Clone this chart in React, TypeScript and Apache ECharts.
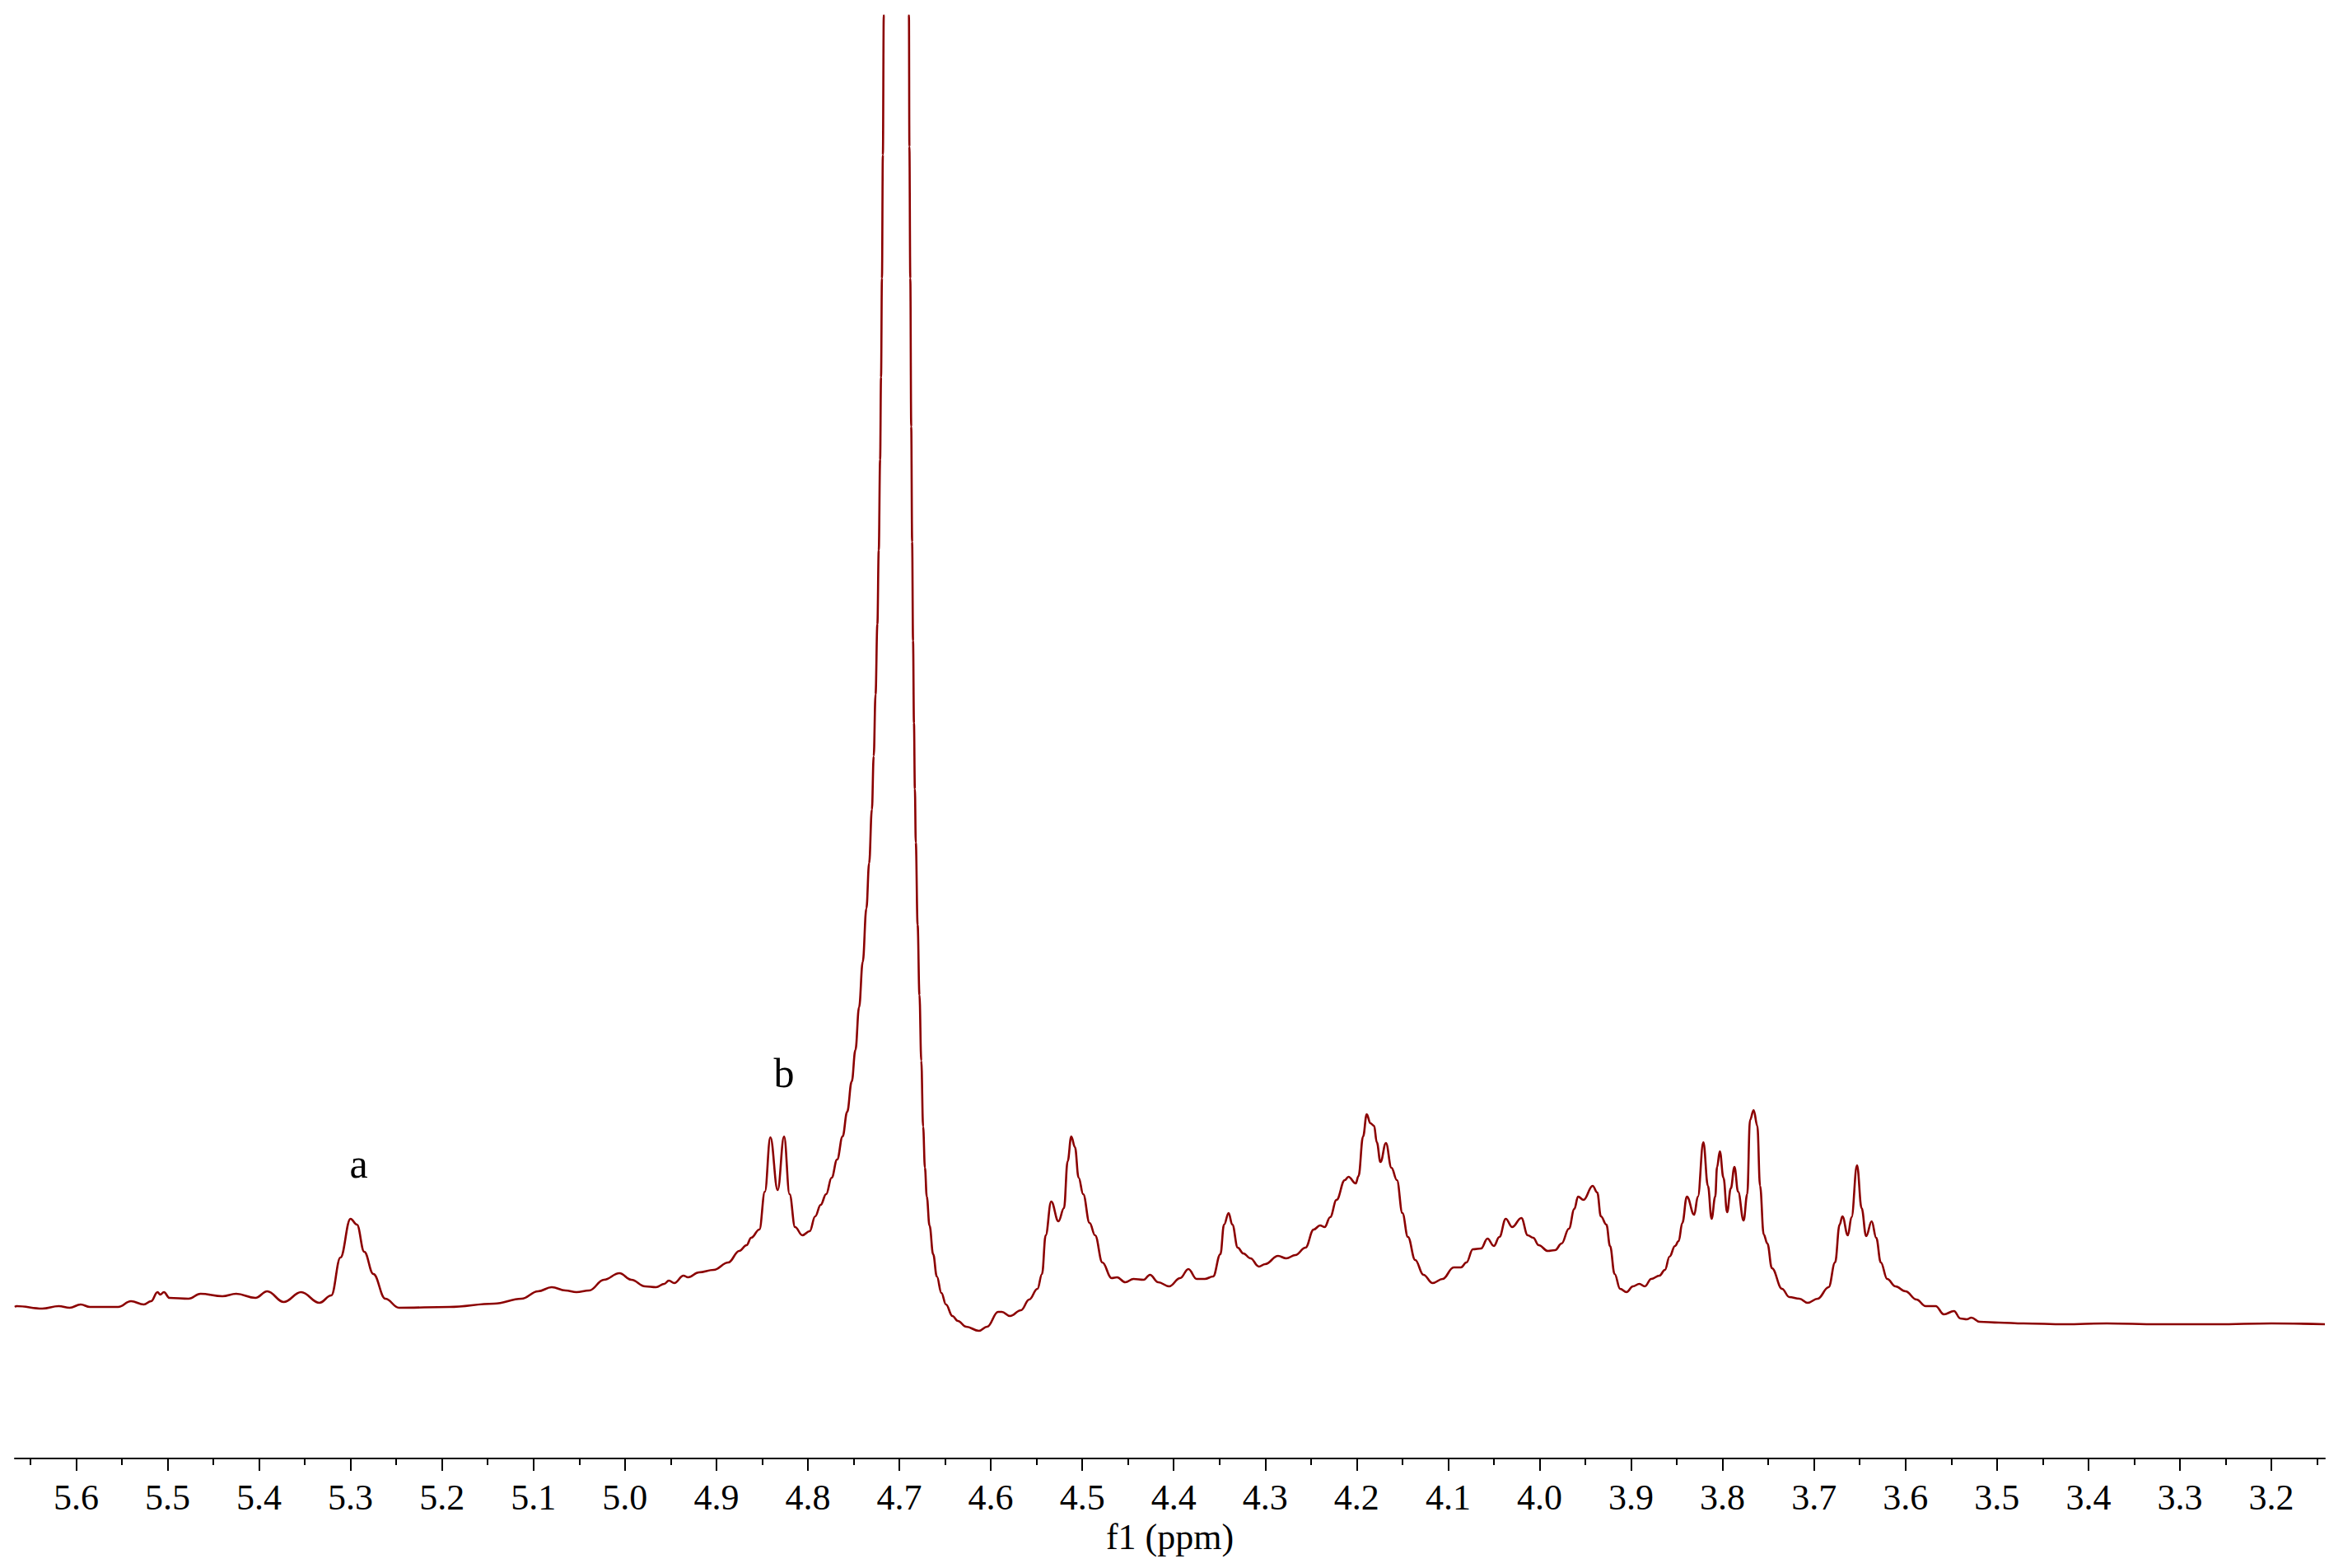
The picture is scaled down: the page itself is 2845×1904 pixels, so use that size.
import React, { useEffect, useRef } from 'react';
import * as echarts from 'echarts';

// chemical shift (ppm), left to right
const ppm = [
  5.667, 5.665, 5.637, 5.619, 5.607, 5.595, 5.585, 5.554, 5.540, 5.526,
  5.518, 5.511, 5.508, 5.504, 5.498, 5.477, 5.464, 5.440, 5.425, 5.404,
  5.391, 5.373, 5.354, 5.334, 5.321, 5.311, 5.300, 5.293, 5.285, 5.275,
  5.262, 5.247, 5.192, 5.143, 5.113, 5.095, 5.080, 5.065, 5.053, 5.039,
  5.023, 5.006, 4.993, 4.978, 4.966, 4.957, 4.952, 4.946, 4.936, 4.931,
  4.919, 4.903, 4.887, 4.875, 4.867, 4.862, 4.853, 4.847, 4.841, 4.833,
  4.826, 4.820, 4.814, 4.806, 4.798, 4.792, 4.786, 4.780, 4.774, 4.768,
  4.762, 4.757, 4.752, 4.748, 4.744, 4.740, 4.736, 4.733, 4.730, 4.728,
  4.726, 4.724, 4.7225, 4.721, 4.720, 4.719, 4.718, 4.717, 4.716, 4.7035,
  4.6905, 4.6895, 4.689, 4.688, 4.687, 4.686, 4.685, 4.684, 4.683, 4.682,
  4.680, 4.678, 4.676, 4.674, 4.672, 4.670, 4.667, 4.663, 4.659, 4.654,
  4.649, 4.642, 4.636, 4.627, 4.613, 4.604, 4.592, 4.588, 4.579, 4.567,
  4.558, 4.549, 4.544, 4.540,
  4.534, 4.526, 4.520, 4.516, 4.512, 4.508, 4.504, 4.499, 4.492, 4.486,
  4.478, 4.468, 4.462, 4.453, 4.444, 4.433, 4.426, 4.417, 4.405, 4.393,
  4.384, 4.375, 4.366, 4.357, 4.349, 4.345, 4.340, 4.336, 4.330, 4.324,
  4.316, 4.307, 4.300, 4.286, 4.277, 4.267, 4.256, 4.247, 4.240, 4.235,
  4.229, 4.222, 4.213, 4.209, 4.201, 4.198, 4.193, 4.189, 4.185, 4.181,
  4.178, 4.174, 4.168, 4.162, 4.156, 4.150, 4.144, 4.136, 4.127, 4.117,
  4.106, 4.094, 4.086, 4.080, 4.073, 4.064, 4.057, 4.050, 4.044, 4.037,
  4.030, 4.020, 4.013, 4.007, 4.001, 3.991, 3.983, 3.976, 3.968, 3.962,
  3.958, 3.952, 3.942, 3.937, 3.933, 3.927, 3.923, 3.918, 3.912, 3.905,
  3.898, 3.891, 3.885, 3.878, 3.869, 3.863, 3.858, 3.852, 3.848, 3.844,
  3.839, 3.831, 3.827, 3.821, 3.816, 3.812, 3.808, 3.806, 3.803, 3.799,
  3.795, 3.791, 3.787, 3.783, 3.777, 3.773, 3.770, 3.766, 3.762, 3.759,
  3.755, 3.751, 3.746, 3.735, 3.727, 3.716, 3.707, 3.696, 3.684, 3.677,
  3.672, 3.669, 3.663, 3.659, 3.653, 3.648, 3.643, 3.637, 3.632, 3.627,
  3.620, 3.611, 3.600, 3.588, 3.578, 3.567, 3.558, 3.547, 3.540, 3.533,
  3.528, 3.519, 3.498, 3.471, 3.426, 3.380, 3.324, 3.260, 3.200, 3.1415,
];

// signal intensity (arbitrary units)
const intensity = [
  21, 22, 19, 22, 20, 24, 21, 21, 28, 24,
  28, 39, 36, 39, 32, 31, 37, 34, 37, 32,
  40, 27, 39, 26, 35, 81, 128, 121, 88, 61,
  31, 20, 21, 25, 31, 40, 45, 41, 39, 41,
  54, 62, 54, 46, 45, 49, 53, 50, 59, 57,
  63, 66, 75, 89, 96, 105, 115, 161, 227, 163,
  228, 158, 118, 108, 113, 131, 145, 158, 178, 200,
  228, 258, 295, 333, 385, 440, 505, 560, 625, 690,
  765, 850, 940, 1050, 1150, 1270, 1420, 1590, 1800, 6000,
  1800, 1590, 1430, 1270, 1090, 950, 830, 730, 650, 585,
  485, 400, 320, 240, 190, 155, 120, 85, 58, 38,
  24, 10, 4, -3, -8, -3, 15, 15, 10, 17,
  30, 43, 61, 108,
  149, 125, 141, 198, 228, 215, 178, 158, 123, 108,
  75, 56, 57, 51, 55, 54, 60, 51, 46, 56,
  67, 55, 55, 58, 85, 121, 135, 121, 93, 86,
  80, 70, 73, 83, 80, 84, 93, 115, 120, 118,
  130, 151, 175, 179, 171, 180, 228, 255, 244, 241,
  221, 197, 220, 190, 175, 135, 106, 78, 60, 50,
  55, 69, 69, 75, 91, 92, 104, 95, 106, 128,
  118, 129, 108, 105, 96, 89, 90, 98, 116, 140,
  155, 151, 168, 160, 131, 121, 95, 61, 43, 39,
  46, 49, 46, 55, 59, 66, 82, 95, 101, 123,
  155, 133, 155, 221, 168, 128, 155, 191, 210, 178,
  136, 165, 191, 161, 126, 158, 248, 260, 241, 168,
  109, 98, 68, 43, 33, 31, 26, 31, 45, 75,
  121, 131, 108, 130, 193, 141, 107, 125, 105, 75,
  55, 46, 40, 30, 22, 22, 12, 16, 7, 6,
  8, 3, 2, 1, 0, 1, 0, 0, 1, 0,
];

const majorTicks = [5.6, 5.5, 5.4, 5.3, 5.2, 5.1, 5.0, 4.9, 4.8, 4.7, 4.6, 4.5, 4.4, 4.3, 4.2, 4.1, 4.0, 3.9, 3.8, 3.7, 3.6, 3.5, 3.4, 3.3, 3.2];
const minorTicks = [5.65, 5.55, 5.45, 5.35, 5.25, 5.15, 5.05, 4.95, 4.85, 4.75, 4.65, 4.55, 4.45, 4.35, 4.25, 4.15, 4.05, 3.95, 3.85, 3.75, 3.65, 3.55, 3.45, 3.35, 3.25, 3.15];

const peakLabels = ['a', 'b'];
const peakLabelPpm = [5.291, 4.826];
const peakLabelValue = [128, 228];
const peakLabelOffset = [-67, -77];

const X_MIN = 3.1415;
const X_MAX = 5.667;
const FONT = '"Liberation Serif", "DejaVu Serif", serif';

export default function App() {
  const ref = useRef<HTMLDivElement>(null);
  useEffect(() => {
    if (!ref.current) return;
    const chart = echarts.init(ref.current, null, { renderer: 'svg' });
    const n = Math.min(ppm.length, intensity.length);
    const data = ppm.slice(0, n).map((p, i) => [p, intensity[i]]);
    chart.setOption({
      animation: false,
      backgroundColor: '#ffffff',
      grid: { left: 18, right: 22, top: 19, bottom: 133, containLabel: false },
      xAxis: [
        {
          type: 'value',
          min: X_MIN,
          max: X_MAX,
          inverse: true,
          position: 'bottom',
          name: 'f1 (ppm)',
          nameLocation: 'middle',
          nameGap: 68,
          nameTextStyle: { fontFamily: FONT, fontSize: 44, color: '#000' },
          axisLine: { onZero: false, lineStyle: { color: '#000', width: 2 } },
          axisTick: { customValues: majorTicks, length: 15, lineStyle: { color: '#000', width: 2 } },
          axisLabel: {
            customValues: majorTicks,
            formatter: (v: number) => v.toFixed(1),
            fontFamily: FONT,
            fontSize: 44,
            color: '#000',
            margin: 25,
          },
          splitLine: { show: false },
        },
        {
          type: 'value',
          min: X_MIN,
          max: X_MAX,
          inverse: true,
          position: 'bottom',
          axisLine: { show: false, onZero: false },
          axisTick: { customValues: minorTicks, length: 8, lineStyle: { color: '#000', width: 2 } },
          axisLabel: { show: false },
          splitLine: { show: false },
        },
      ],
      yAxis: { type: 'value', min: -163, max: 1589, show: false },
      series: [
        {
          type: 'line',
          xAxisIndex: 0,
          data,
          showSymbol: false,
          smooth: 0.4,
          smoothMonotone: 'x',
          clip: true,
          lineStyle: { color: '#8B0000', width: 2.6 },
          markPoint: {
            symbol: 'circle',
            symbolSize: 1,
            itemStyle: { color: 'rgba(0,0,0,0)' },
            data: peakLabels.map((t, i) => ({
              name: t,
              coord: [peakLabelPpm[i], peakLabelValue[i]],
              label: {
                show: true,
                formatter: t,
                position: 'inside',
                offset: [0, peakLabelOffset[i]],
                fontFamily: FONT,
                fontSize: 50,
                color: '#000',
              },
            })),
          },
        },
      ],
    });
    return () => chart.dispose();
  }, []);
  return <div ref={ref} style={{ position: 'absolute', left: 0, top: 0, width: 2845, height: 1904 }} />;
}
